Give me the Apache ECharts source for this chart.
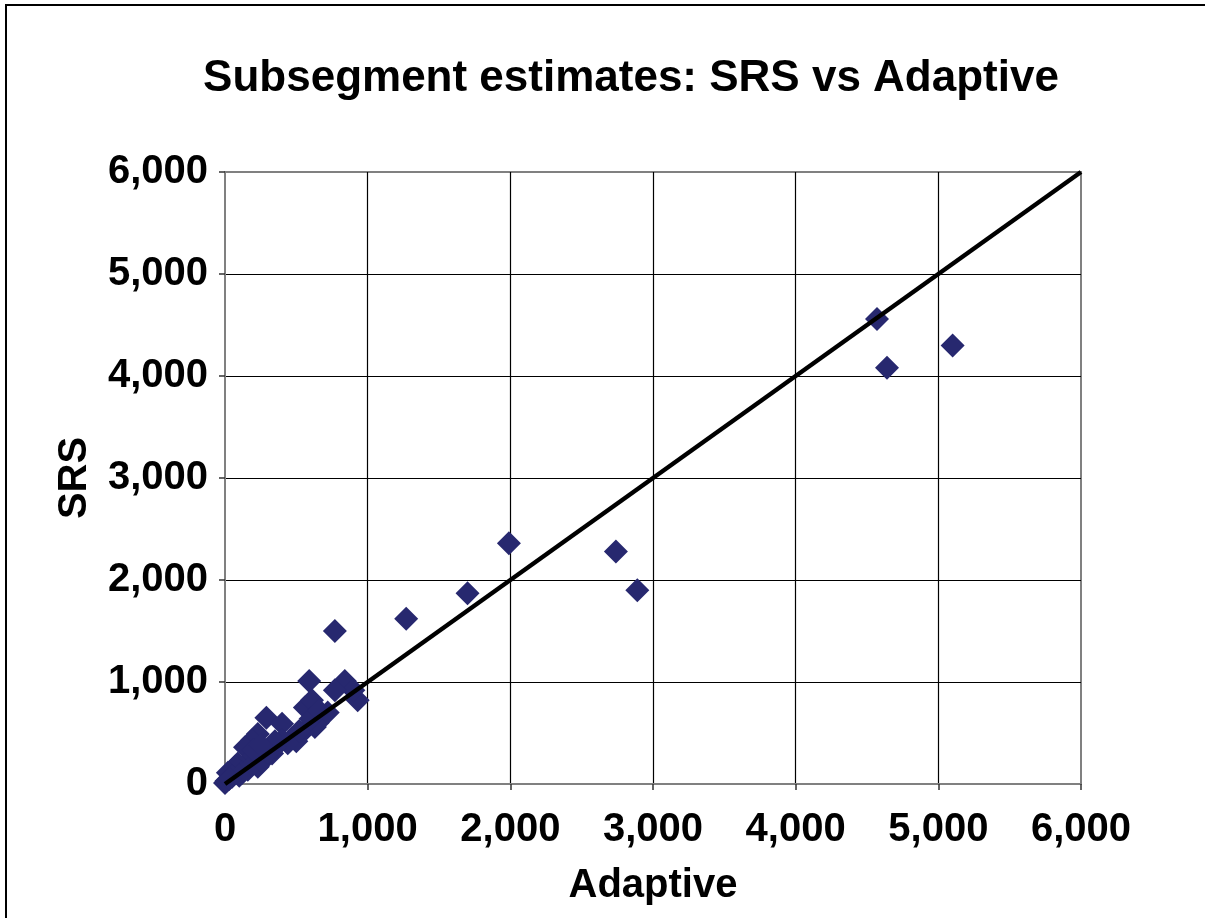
<!DOCTYPE html>
<html>
<head>
<meta charset="utf-8">
<script src="https://cdn.jsdelivr.net/npm/echarts@6/dist/echarts.min.js"></script>
<style>
  html, body { margin: 0; padding: 0; background: #fff; }
  #chart { width: 1205px; height: 918px; }
</style>
</head>
<body>
<div id="chart"></div>
<script>
// Adaptive (x) vs SRS (y) subsegment estimates
const adaptive = [4570, 4640, 5100, 1990, 2740, 2890, 1700, 1270, 770, 590, 840, 930, 900, 770,
  560, 610, 630, 560, 680, 290, 400, 230, 190, 140, 400, 330, 440, 190, 230, 90, 70, 20, 0, 10,
  120, 50, 160, 500, 650, 720, 350, 260, 300, 350, 470, 520, 600, 660, 100, 30, 200, 250];
const srs = [4560, 4080, 4300, 2360, 2280, 1900, 1870, 1620, 1500, 1010, 1010, 820, 920, 920,
  750, 820, 560, 530, 660, 650, 590, 490, 430, 360, 430, 300, 400, 260, 170, 200, 170, 110, 10, 30,
  110, 70, 140, 420, 600, 700, 360, 220, 310, 420, 450, 520, 640, 720, 80, 50, 330, 380];
const lineX = [0, 6000];
const lineY = [0, 6000];
const axisTicks = [0, 1000, 2000, 3000, 4000, 5000, 6000];

const font = "'Liberation Sans', Arial, Helvetica, sans-serif";
const fmt = v => v.toLocaleString("en-US");

const chart = echarts.init(document.getElementById("chart"), null, { renderer: "canvas" });

const axisBase = {
  type: "value",
  min: axisTicks[0],
  max: axisTicks[axisTicks.length - 1],
  interval: 1000,
  axisLine: { show: true, lineStyle: { color: "#808080", width: 2 } },
  axisTick: { show: true, inside: false, length: 6, lineStyle: { color: "#333", width: 1.5 } },
  splitLine: { show: true, showMinLine: false, showMaxLine: false, lineStyle: { color: "#000", width: 1.2 } },
  axisLabel: {
    color: "#000", fontFamily: font, fontWeight: "bold", fontSize: 40,
    formatter: v => fmt(v)
  },
  nameLocation: "middle",
  nameTextStyle: { color: "#000", fontFamily: font, fontWeight: "bold", fontSize: 40 }
};

chart.setOption({
  backgroundColor: "#fff",
  animation: false,
  graphic: [{
    type: "rect",
    shape: { x: 6, y: 5, width: 1400, height: 1200 },
    style: { fill: "none", stroke: "#000", lineWidth: 2 },
    silent: true
  }],
  title: {
    text: "Subsegment estimates: SRS vs Adaptive",
    left: 626, top: 52, textAlign: "center",
    textStyle: { color: "#000", fontFamily: font, fontWeight: "bold", fontSize: 44 }
  },
  grid: {
    left: 225, right: 124, top: 172, bottom: 134,
    show: true, borderColor: "#808080", borderWidth: 2, backgroundColor: "transparent"
  },
  xAxis: Object.assign({}, axisBase, {
    name: "Adaptive", nameGap: 82,
    axisLabel: Object.assign({}, axisBase.axisLabel, { margin: 26 })
  }),
  yAxis: Object.assign({}, axisBase, {
    name: "SRS", nameGap: 130, nameRotate: 90,
    axisLabel: Object.assign({}, axisBase.axisLabel, { margin: 17 })
  }),
  series: [
    {
      type: "scatter",
      symbol: "diamond",
      symbolSize: 24,
      itemStyle: { color: "#27286f", opacity: 1 },
      data: adaptive.map((x, i) => [x, srs[i]]),
      z: 3
    },
    {
      type: "line",
      data: lineX.map((x, i) => [x, lineY[i]]),
      showSymbol: false,
      lineStyle: { color: "#000", width: 4.5 },
      z: 4
    }
  ]
});
</script>
</body>
</html>
